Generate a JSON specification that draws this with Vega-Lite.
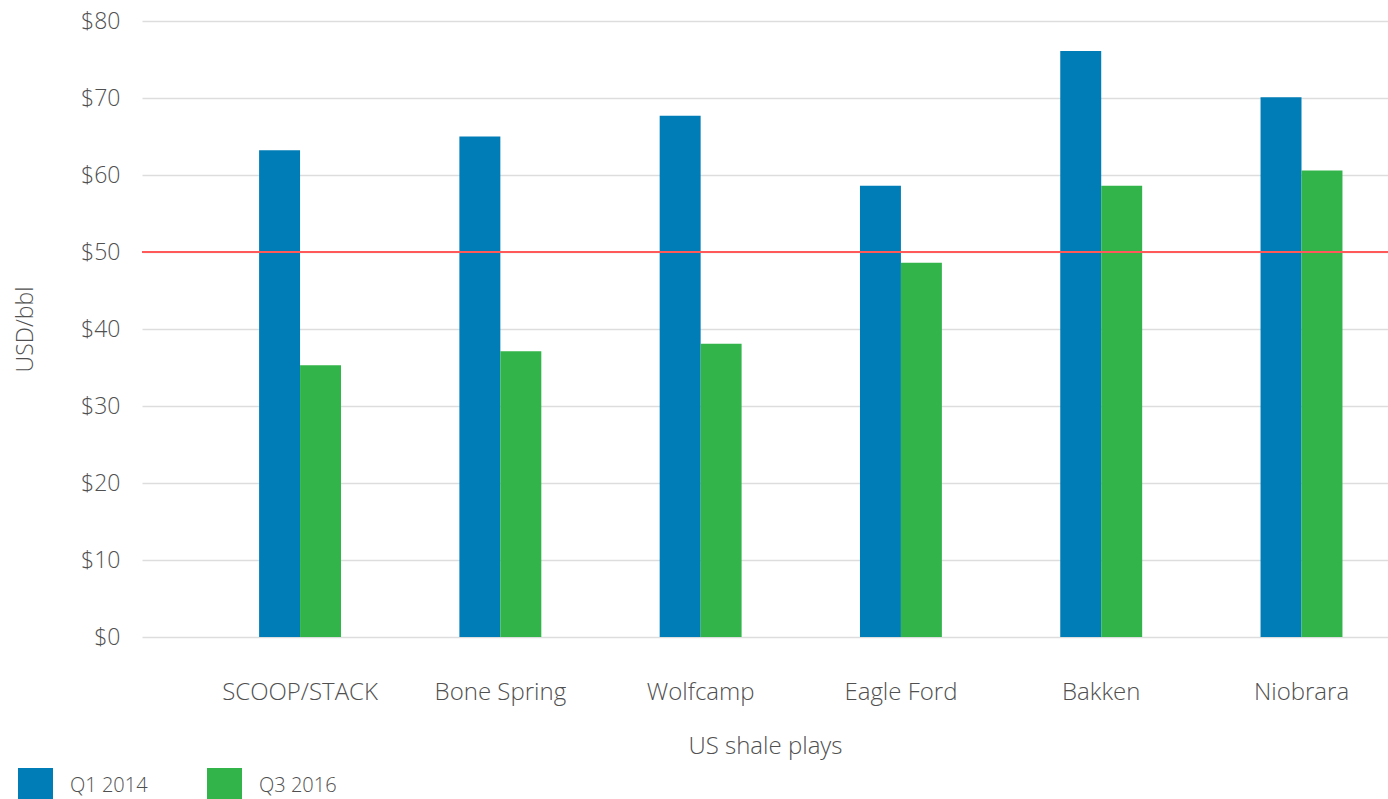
{
  "$schema": "https://vega.github.io/schema/vega-lite/v6.json",
  "width": 1246,
  "height": 616,
  "autosize": {"type": "none"},
  "padding": {"left": 142, "top": 21, "right": 0, "bottom": 162},
  "background": "white",
  "config": {
    "view": {"stroke": null},
    "font": "Open Sans",
    "axis": {
      "labelFont": "Open Sans",
      "labelFontWeight": 300,
      "labelFontSize": 23,
      "labelColor": "#505050",
      "titleFont": "Open Sans",
      "titleFontWeight": 300,
      "titleFontSize": 23,
      "titleColor": "#505050",
      "domain": false,
      "ticks": false,
      "labelOverlap": false
    },
    "legend": {
      "labelFont": "Open Sans",
      "labelFontWeight": 300,
      "labelFontSize": 20,
      "labelColor": "#505050"
    }
  },
  "data": {
    "values": [
      {"play": "SCOOP/STACK", "period": "Q1 2014", "value": 63.2},
      {"play": "SCOOP/STACK", "period": "Q3 2016", "value": 35.3},
      {"play": "Bone Spring", "period": "Q1 2014", "value": 65.0},
      {"play": "Bone Spring", "period": "Q3 2016", "value": 37.1},
      {"play": "Wolfcamp", "period": "Q1 2014", "value": 67.7},
      {"play": "Wolfcamp", "period": "Q3 2016", "value": 38.1},
      {"play": "Eagle Ford", "period": "Q1 2014", "value": 58.6},
      {"play": "Eagle Ford", "period": "Q3 2016", "value": 48.6},
      {"play": "Bakken", "period": "Q1 2014", "value": 76.1},
      {"play": "Bakken", "period": "Q3 2016", "value": 58.6},
      {"play": "Niobrara", "period": "Q1 2014", "value": 70.1},
      {"play": "Niobrara", "period": "Q3 2016", "value": 60.6}
    ]
  },
  "layer": [
    {
      "mark": {"type": "bar"},
      "encoding": {
        "x": {
          "field": "play",
          "type": "nominal",
          "sort": null,
          "scale": {"paddingInner": 0.591, "paddingOuter": 0.406, "align": 0.72},
          "axis": {
            "title": "US shale plays",
            "labelAngle": 0,
            "labelFontSize": 24,
            "titleFontSize": 24,
            "labelPadding": 43,
            "titlePadding": 30,
            "grid": false
          }
        },
        "xOffset": {"field": "period", "type": "nominal", "scale": {"paddingInner": 0, "paddingOuter": 0}},
        "y": {
          "field": "value",
          "type": "quantitative",
          "scale": {"domain": [0, 80], "nice": false},
          "axis": {
            "title": "USD/bbl",
            "format": "$,.0f",
            "values": [0, 10, 20, 30, 40, 50, 60, 70, 80],
            "grid": true,
            "gridColor": "#dddddd",
            "gridWidth": 1.5,
            "labelPadding": 22,
            "titlePadding": 43
          }
        },
        "color": {
          "field": "period",
          "type": "nominal",
          "scale": {"domain": ["Q1 2014", "Q3 2016"], "range": ["#007cb6", "#33b44a"]},
          "legend": {
            "title": null,
            "orient": "none",
            "direction": "horizontal",
            "legendX": -124,
            "legendY": 747,
            "symbolType": "square",
            "symbolSize": 1225,
            "symbolStrokeWidth": 0,
            "labelOffset": 17,
            "columnPadding": 59
          }
        }
      }
    },
    {
      "mark": {"type": "rule", "color": "#ff5a5a", "strokeWidth": 1.5},
      "encoding": {"y": {"datum": 50}}
    }
  ]
}
